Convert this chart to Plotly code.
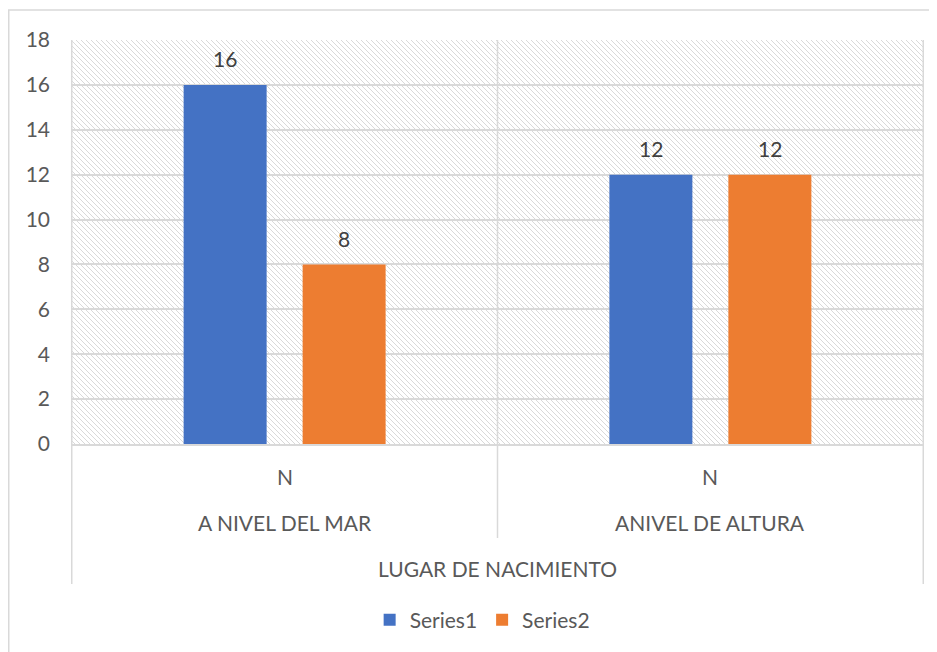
import base64
import plotly.graph_objects as go

# ---- data ----
groups = ["A NIVEL DEL MAR", "ANIVEL DE ALTURA"]
sub_label = "N"
series1 = [16, 12]
series2 = [8, 12]
series_names = ["Series1", "Series2"]
series_colors = ["#4472C4", "#ED7D31"]
axis_title = "LUGAR DE NACIMIENTO"
y_ticks = [0, 2, 4, 6, 8, 10, 12, 14, 16, 18]

# the page body has an 8px margin, so the figure is laid out 8px smaller
OFF = 8
W, H = 937 - OFF, 652 - OFF
ML, MT = 71 - OFF, 40 - OFF
MR = W - (924 - OFF)
MB = H - (444 - OFF)
PW, PH = W - ML - MR, H - MT - MB

TXT = "#595959"
GRID = "#d9d9d9"
FONT = "Lato, Calibri, 'Open Sans', sans-serif"
FS = 21

BARGAP, BARGROUPGAP = 0.441, 0.3025

fig = go.Figure()
for name, vals, col in zip(series_names, [series1, series2], series_colors):
    fig.add_trace(go.Bar(x=groups, y=vals, name=name,
                         marker=dict(color=col, line=dict(width=0))))

# hatched plot-area background (decorative image)
svg = f'''<svg xmlns="http://www.w3.org/2000/svg" width="{PW}" height="{PH}">
<defs><pattern id="h" patternUnits="userSpaceOnUse" width="5" height="5">
<rect width="5" height="5" fill="#ffffff"/>
<path d="M0,0 L5,5 M-1,4 L1,6 M4,-1 L6,1" stroke="#d9d9d9" stroke-width="1"/>
</pattern></defs>
<rect width="{PW}" height="{PH}" fill="url(#h)"/></svg>'''
src = "data:image/svg+xml;base64," + base64.b64encode(svg.encode()).decode()
fig.add_layout_image(dict(source=src, xref="paper", yref="paper", x=0, y=1,
                          sizex=1, sizey=1, xanchor="left", yanchor="top",
                          sizing="stretch", layer="below"))

def py(px):
    """pixel offset below the x axis -> paper y"""
    return -px / PH

n = len(groups)
shapes = []
for i in range(n + 1):
    edge = i in (0, n)
    shapes.append(dict(type="line", xref="x", yref="paper",
                       x0=i - 0.5, x1=i - 0.5, y0=1, y1=py(140 if edge else 94),
                       line=dict(color=GRID, width=1.5), layer="above"))
# chart border (top and left visible)
shapes.append(dict(type="rect", xref="paper", yref="paper",
                   x0=(0.75 - ML) / PW, x1=(W + 10 - ML) / PW,
                   y0=py(H + 10 - MT - PH), y1=1 + (MT - (10 - OFF)) / PH,
                   line=dict(color="#d9d9d9", width=1.5)))

annotations = []
# data labels above bars
slot = (1 - BARGAP) * PW / n / 2
nser = len(series_names)
for k, vals in enumerate([series1, series2]):
    dx = (k - (nser - 1) / 2) * slot
    for g, v in zip(groups, vals):
        annotations.append(dict(x=g, y=v, xref="x", yref="y", text=str(v),
                                showarrow=False, xshift=dx, yshift=26,
                                yanchor="middle",
                                font=dict(color="#404040", size=FS, family=FONT)))
for g in groups:
    annotations.append(dict(x=g, y=py(32), xref="x", yref="paper", text=sub_label,
                            showarrow=False, yanchor="middle",
                            font=dict(color=TXT, size=FS, family=FONT)))
    annotations.append(dict(x=g, y=py(78), xref="x", yref="paper", text=g,
                            showarrow=False, yanchor="middle",
                            font=dict(color=TXT, size=FS, family=FONT)))
annotations.append(dict(x=0.5, y=py(124), xref="paper", yref="paper", text=axis_title,
                        showarrow=False, yanchor="middle",
                        font=dict(color=TXT, size=FS, family=FONT)))

fig.update_layout(
    width=W, height=H,
    margin=dict(l=ML, r=MR, t=MT, b=MB, autoexpand=False),
    paper_bgcolor="white", plot_bgcolor="rgba(0,0,0,0)",
    font=dict(family=FONT, color=TXT, size=FS),
    barmode="group", bargap=BARGAP, bargroupgap=BARGROUPGAP,
    showlegend=True,
    legend=dict(orientation="h", x=0.482, xanchor="center", y=py(176), yanchor="middle",
                font=dict(color=TXT, size=FS, family=FONT), itemwidth=30,
                traceorder="normal"),
    xaxis=dict(showticklabels=False, ticks="", showgrid=False, showline=True,
               linecolor=GRID, linewidth=1.5, zeroline=False),
    yaxis=dict(range=[0, 18], tickvals=y_ticks, showgrid=True, gridcolor=GRID,
               gridwidth=1.5, zeroline=False, showline=False, ticks="",
               tickfont=dict(color=TXT, size=FS, family=FONT), ticklabelstandoff=20),
    shapes=shapes, annotations=annotations,
)

fig.write_html("out.html")
